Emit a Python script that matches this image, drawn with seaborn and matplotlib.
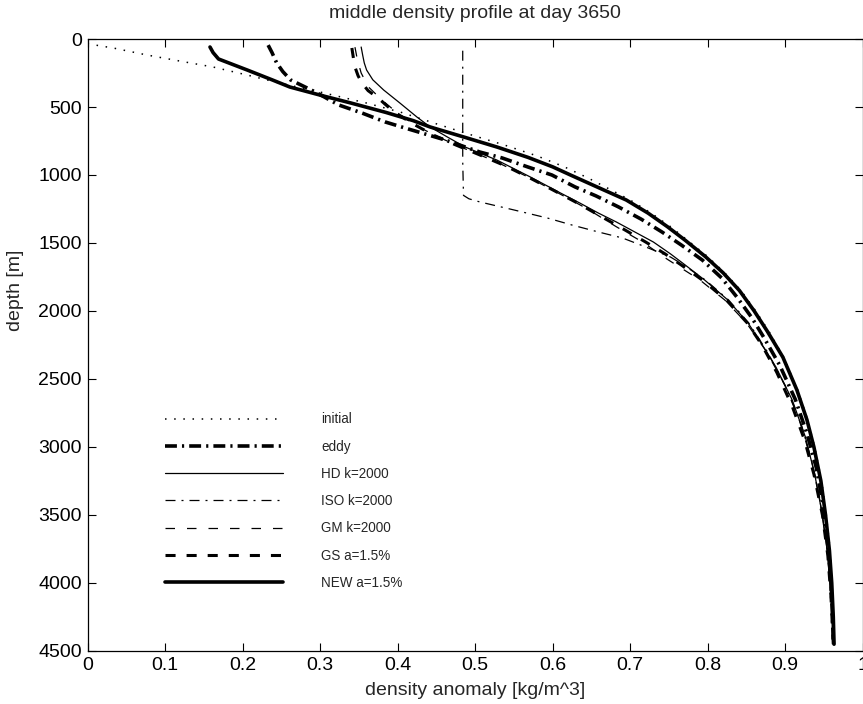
import matplotlib
matplotlib.use("Agg")
import matplotlib.pyplot as plt
import seaborn as sns

# depth [m] and density anomaly [kg/m^3]
initial_depth = [35, 66, 118, 162, 206, 265, 324, 390, 471, 540, 620, 700, 780, 860, 940,
                 1020, 1100, 1184, 1280, 1380, 1480, 1600, 1720, 1850, 2000, 2150, 2340,
                 2580, 2800, 3000, 3250, 3500, 3760, 4000, 4250, 4450]
initial_rho = [0.0, 0.033, 0.077, 0.119, 0.162, 0.206, 0.248, 0.300, 0.360, 0.405, 0.448,
               0.492, 0.538, 0.580, 0.615, 0.645, 0.672, 0.700, 0.727, 0.752, 0.774, 0.800,
               0.822, 0.843, 0.862, 0.879, 0.898, 0.916, 0.929, 0.938, 0.947, 0.953, 0.958,
               0.960, 0.962, 0.963]

eddy_depth = [45, 100, 176, 240, 301, 390, 485, 544, 610, 662, 740, 831, 875, 941, 1000,
              1088, 1154, 1235, 1324, 1419, 1515, 1625, 1757, 1900, 2050, 2200, 2400, 2650,
              2900, 3150, 3400, 3700, 4000, 4250, 4450]
eddy_rho = [0.233, 0.238, 0.244, 0.252, 0.262, 0.294, 0.324, 0.354, 0.384, 0.414, 0.460,
            0.506, 0.535, 0.568, 0.599, 0.629, 0.656, 0.685, 0.714, 0.741, 0.766, 0.793,
            0.818, 0.838, 0.857, 0.873, 0.893, 0.913, 0.928, 0.940, 0.948, 0.955, 0.959,
            0.961, 0.962]

hd_depth = [59, 120, 176, 228, 300, 375, 471, 574, 647, 720, 794, 890, 1014, 1132, 1206,
            1280, 1345, 1419, 1493, 1580, 1662, 1772, 1919, 2088, 2191, 2412, 2654, 2926,
            3200, 3500, 3800, 4100, 4450]
hd_rho = [0.353, 0.355, 0.357, 0.360, 0.368, 0.382, 0.403, 0.425, 0.442, 0.464, 0.487,
          0.528, 0.571, 0.610, 0.635, 0.659, 0.682, 0.706, 0.730, 0.752, 0.771, 0.796,
          0.826, 0.852, 0.864, 0.888, 0.909, 0.926, 0.938, 0.948, 0.955, 0.959, 0.962]

iso_depth = [86, 300, 600, 900, 1150, 1175, 1198, 1257, 1316, 1368, 1419, 1463, 1529,
             1603, 1662, 1772, 1919, 2088, 2300, 2550, 2800, 3100, 3400, 3750, 4100, 4450]
iso_rho = [0.484, 0.484, 0.484, 0.484, 0.485, 0.492, 0.506, 0.550, 0.593, 0.625, 0.659,
           0.690, 0.720, 0.752, 0.769, 0.797, 0.827, 0.853, 0.877, 0.900, 0.919, 0.934,
           0.945, 0.954, 0.959, 0.962]

gm_depth = [60, 150, 250, 350, 450, 550, 640, 720, 800, 900, 1014, 1132, 1250, 1380, 1493,
            1620, 1772, 1919, 2088, 2300, 2550, 2800, 3100, 3400, 3750, 4100, 4450]
gm_rho = [0.345, 0.348, 0.353, 0.362, 0.380, 0.401, 0.425, 0.452, 0.484, 0.526, 0.568,
          0.607, 0.645, 0.682, 0.716, 0.748, 0.790, 0.822, 0.850, 0.876, 0.900, 0.918,
          0.934, 0.945, 0.954, 0.959, 0.962]

gs_depth = [66, 140, 206, 270, 324, 380, 434, 490, 537, 618, 706, 779, 850, 930, 1014,
            1100, 1206, 1300, 1400, 1493, 1580, 1662, 1772, 1919, 2088, 2250, 2450, 2700,
            2950, 3200, 3500, 3800, 4100, 4450]
gs_rho = [0.341, 0.343, 0.345, 0.349, 0.354, 0.362, 0.375, 0.386, 0.396, 0.418, 0.446,
          0.475, 0.505, 0.538, 0.568, 0.597, 0.632, 0.661, 0.692, 0.720, 0.745, 0.766,
          0.793, 0.824, 0.851, 0.870, 0.889, 0.909, 0.925, 0.937, 0.948, 0.955, 0.959,
          0.962]

new_depth = [59, 100, 147, 228, 300, 353, 420, 471, 540, 600, 647, 720, 794, 870, 940,
             1000, 1100, 1184, 1280, 1380, 1480, 1600, 1720, 1850, 2000, 2150, 2340, 2580,
             2800, 3000, 3250, 3500, 3760, 4000, 4250, 4450]
new_rho = [0.158, 0.162, 0.169, 0.206, 0.238, 0.261, 0.305, 0.340, 0.385, 0.420, 0.442,
           0.485, 0.528, 0.568, 0.600, 0.623, 0.662, 0.695, 0.723, 0.748, 0.771, 0.797,
           0.820, 0.841, 0.860, 0.877, 0.897, 0.915, 0.928, 0.937, 0.946, 0.952, 0.957,
           0.960, 0.962, 0.963]

xticks = [0, 0.1, 0.2, 0.3, 0.4, 0.5, 0.6, 0.7, 0.8, 0.9, 1]
yticks = [0, 500, 1000, 1500, 2000, 2500, 3000, 3500, 4000, 4500]

# ===============================
# style
# ===============================
sns.set_style("ticks", {"xtick.direction": "in", "ytick.direction": "in"})
plt.rcParams["font.family"] = ["Liberation Sans", "DejaVu Sans"]

fig = plt.figure(figsize=(8.63, 7.04), dpi=100)
ax = fig.add_axes([0.1014, 0.0753, 0.8983, 0.8693])

curves = [
    ("initial", initial_depth, initial_rho, dict(lw=1.1, linestyle=(0, (1, 5)))),
    ("eddy", eddy_depth, eddy_rho, dict(lw=2.6, linestyle=(0, (3.3, 1.4, 0.6, 1.4)))),
    ("HD k=2000", hd_depth, hd_rho, dict(lw=0.9, linestyle="-")),
    ("ISO k=2000", iso_depth, iso_rho, dict(lw=0.9, linestyle=(0, (8, 4.8, 1.6, 4.8)))),
    ("GM k=2000", gm_depth, gm_rho, dict(lw=0.9, linestyle=(0, (7.6, 9.6)))),
    ("GS a=1.5%", gs_depth, gs_rho, dict(lw=2.2, linestyle=(0, (3.3, 3.6)))),
    ("NEW a=1.5%", new_depth, new_rho, dict(lw=2.6, linestyle="-")),
]

for label, depth, rho, style in curves:
    sns.lineplot(x=rho, y=depth, sort=False, estimator=None, color="black",
                 label=label, ax=ax, **style)

ax.set_xlim(0, 1)
ax.set_ylim(4500, 0)
ax.set_xticks(xticks)
ax.set_xticklabels([f"{t:g}" for t in xticks])
ax.set_yticks(yticks)
ax.tick_params(axis="both", which="both", direction="in", top=True, right=True,
               length=6, width=0.8, labelsize=14, pad=4, colors="black")
for s in ax.spines.values():
    s.set_linewidth(0.9)
    s.set_color("black")

ax.set_title("middle density profile at day 3650", fontsize=14, pad=15)
ax.set_xlabel("density anomaly [kg/m^3]", fontsize=14, labelpad=6)
ax.set_ylabel("depth [m]", fontsize=14)
ax.yaxis.set_label_coords(-0.082, 0.59)

ax.legend(loc="upper left", bbox_to_anchor=(0.1, 0.390), frameon=False,
          handlelength=8.7, handletextpad=2.85, labelspacing=0.98, fontsize=9.75,
          borderpad=0, borderaxespad=0)

fig.savefig("out.png", dpi=100)
